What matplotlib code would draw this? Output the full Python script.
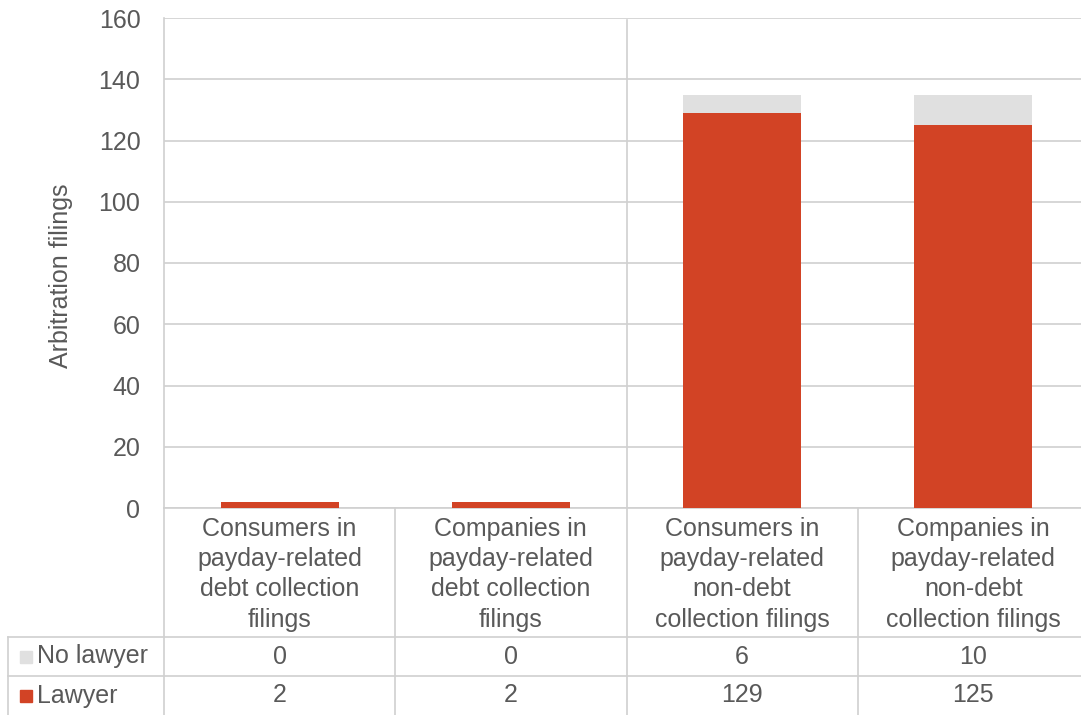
import matplotlib.pyplot as plt
from matplotlib.lines import Line2D

plt.rcParams['font.family'] = ['Liberation Sans', 'DejaVu Sans']

categories = ['Consumers in\npayday-related\ndebt collection\nfilings',
              'Companies in\npayday-related\ndebt collection\nfilings',
              'Consumers in\npayday-related\nnon-debt\ncollection filings',
              'Companies in\npayday-related\nnon-debt\ncollection filings']
lawyer = [2, 2, 129, 125]
no_lawyer = [0, 0, 6, 10]
series_names = ['No lawyer', 'Lawyer']

red = '#d24325'
grey = '#e0e0e0'
text_col = '#595959'
line_col = '#d0d0d0'
fs = 18

fig = plt.figure(figsize=(10.81, 7.15), dpi=100)
# plot area in pixels: x 164..1090 (runs past the right edge), y 18..508
AX_L, AX_W = 164, 925
ax = fig.add_axes([AX_L / 1081, (715 - 508) / 715, AX_W / 1081, 490 / 715])

x = list(range(len(categories)))
ax.bar(x, lawyer, width=0.51, color=red, zorder=3)
ax.bar(x, no_lawyer, width=0.51, bottom=lawyer, color=grey, zorder=3)

ax.set_xlim(-0.5, 3.5)
ax.set_ylim(0, 160)
ax.set_yticks(range(0, 161, 20))
ax.set_xticks([])
ax.tick_params(axis='y', length=0, pad=17, labelsize=fs, labelcolor=text_col)
ax.grid(axis='y', color=line_col, linewidth=1.2, zorder=0)
for s in ['top', 'right']:
    ax.spines[s].set_visible(False)
for s in ['left', 'bottom']:
    ax.spines[s].set_color(line_col)
    ax.spines[s].set_linewidth(1.2)

ax.set_ylabel('Arbitration filings', fontsize=fs, color=text_col)
ax.yaxis.set_label_coords((73 - AX_L) / AX_W, 0.475)

# data table under the plot
xt = ax.get_xaxis_transform()
h_top = 0.0
h_mid1 = (508 - 637) / 490
h_mid2 = (508 - 676) / 490
h_bot = (508 - 715) / 490
left_x = (8 - AX_L) / AX_W

def hline(y):
    ax.add_line(Line2D([left_x, 1.0], [y, y], transform=ax.transAxes,
                       color=line_col, lw=1.2, clip_on=False))

def vline(xd, y0, y1, trans):
    ax.add_line(Line2D([xd, xd], [y0, y1], transform=trans,
                       color=line_col, lw=1.2, clip_on=False))

hline(h_mid1)
hline(h_mid2)
vline(-0.5, h_top, h_bot, xt)
vline(left_x, h_mid1, h_bot, ax.transAxes)
for b in [0.5, 1.5, 2.5]:
    vline(b, h_top, h_bot, xt)
# separator inside the plot between the two groups
ax.axvline(1.5, ymin=0, ymax=0.995, color=line_col, lw=1.2, zorder=1)

for i, cat in enumerate(categories):
    ax.text(i, (h_top + h_mid1) / 2 - 0.004, cat, transform=xt, ha='center', va='center',
            fontsize=fs, color=text_col, linespacing=1.32)
    ax.text(i, (h_mid1 + h_mid2) / 2, str(no_lawyer[i]), transform=xt,
            ha='center', va='center', fontsize=fs, color=text_col)
    ax.text(i, (h_mid2 + h_bot) / 2, str(lawyer[i]), transform=xt,
            ha='center', va='center', fontsize=fs, color=text_col)

for yrow, name, col in [((h_mid1 + h_mid2) / 2, series_names[0], grey),
                        ((h_mid2 + h_bot) / 2, series_names[1], red)]:
    ax.plot([(26 - AX_L) / AX_W], [yrow], marker='s', markersize=9, color=col,
            transform=ax.transAxes, clip_on=False)
    ax.text((37 - AX_L) / AX_W, yrow, name, transform=ax.transAxes, ha='left',
            va='center', fontsize=fs, color=text_col)

fig.savefig('out.png', dpi=100)
